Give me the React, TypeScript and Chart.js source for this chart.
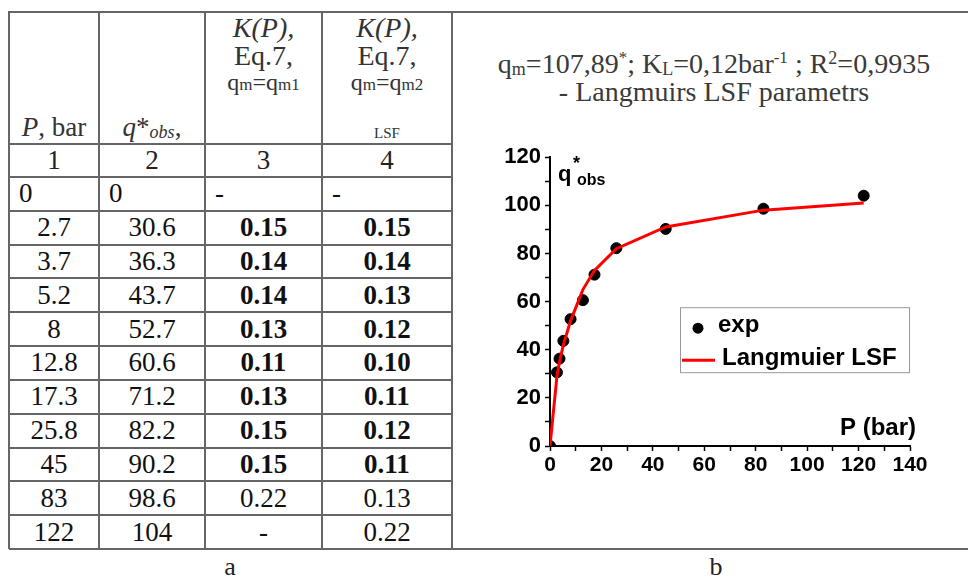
import React, { useEffect, useRef } from 'react';
import { Chart, registerables } from 'chart.js';

Chart.register(...registerables);

// ---------- data ----------
const pressureLabels = ['0', '2.7', '3.7', '5.2', '8', '12.8', '17.3', '25.8', '45', '83', '122'];
const pressureValues = [0, 2.7, 3.7, 5.2, 8, 12.8, 17.3, 25.8, 45, 83, 122];
const qObsLabels = ['0', '30.6', '36.3', '43.7', '52.7', '60.6', '71.2', '82.2', '90.2', '98.6', '104'];
const qObsValues = [0, 30.6, 36.3, 43.7, 52.7, 60.6, 71.2, 82.2, 90.2, 98.6, 104];
const kQm1 = ['-', '0.15', '0.14', '0.14', '0.13', '0.11', '0.13', '0.15', '0.15', '0.22', '-'];
const kQm2 = ['-', '0.15', '0.14', '0.13', '0.12', '0.10', '0.11', '0.12', '0.11', '0.13', '0.22'];
const boldRows = [false, true, true, true, true, true, true, true, true, false, false];
const fitValues = [0, 29, 35, 42, 52, 65, 73, 82, 91, 98, 101];
const columnNumbers = ['1', '2', '3', '4'];
const xTicks = { min: 0, max: 140, step: 10, labelEvery: 20 };
const yTicks = { min: 0, max: 120, step: 10, labelEvery: 20 };
const legendLabels = ['exp', 'Langmuier LSF'];

const SERIF = '"Liberation Serif", "Times New Roman", serif';
const SANS = '"Liberation Sans", Arial, sans-serif';

// ---------- layout ----------
const colX = [9, 99, 205, 322, 452];
const headerTop = 12;
const headerBottom = 144;
const numRowBottom = 177;
const tableBottom = 549;
const rowH = (tableBottom - numRowBottom) / pressureLabels.length;
const LINE = '#666';

function T(props: {
  x: number; w?: number; base: number; size: number; align?: 'left' | 'center' | 'right';
  children: React.ReactNode; style?: React.CSSProperties; font?: string;
}) {
  const { x, w, base, size, align = 'left', children, style, font } = props;
  return (
    <div
      style={{
        position: 'absolute',
        left: x,
        width: w,
        top: base - 0.8375 * size,
        fontSize: size,
        lineHeight: `${size}px`,
        height: size,
        textAlign: align,
        whiteSpace: 'nowrap',
        fontFamily: font || SERIF,
        ...style,
      }}
    >
      {children}
    </div>
  );
}

const sub = (s: string, size: number, dy = 2, extra: React.CSSProperties = {}) => (
  <span style={{ fontSize: size, position: 'relative', top: dy, ...extra }}>{s}</span>
);
const sup = (s: string, size: number, dy = -10, extra: React.CSSProperties = {}) => (
  <span style={{ fontSize: size, position: 'relative', top: dy, ...extra }}>{s}</span>
);

const overlayPlugin = {
  id: 'overlay',
  afterDraw(chart: any) {
    const { ctx, chartArea: ca } = chart;
    ctx.save();
    ctx.fillStyle = '#000';
    ctx.textBaseline = 'alphabetic';
    ctx.textAlign = 'left';
    // y title
    ctx.font = `bold 22px ${SANS}`;
    ctx.fillText('q', ca.left + 8, ca.top + 24);
    ctx.font = `bold 18px ${SANS}`;
    ctx.fillText('*', ca.left + 23, ca.top + 12);
    ctx.font = `bold 16px ${SANS}`;
    ctx.fillText('obs', ca.left + 27, ca.top + 28);
    // x title
    ctx.font = `bold 24px ${SANS}`;
    ctx.textAlign = 'right';
    ctx.fillText('P (bar)', ca.right + 6, ca.bottom - 11);
    // legend box
    const lx = ca.left + 130;
    const ly = ca.top + 150;
    ctx.fillStyle = '#fff';
    ctx.fillRect(lx, ly, 229, 65);
    ctx.strokeStyle = '#999';
    ctx.lineWidth = 1;
    ctx.strokeRect(lx + 0.5, ly + 0.5, 229, 65);
    ctx.fillStyle = '#000';
    ctx.beginPath();
    ctx.arc(lx + 18, ly + 21, 5.5, 0, Math.PI * 2);
    ctx.fill();
    ctx.textAlign = 'left';
    ctx.font = `bold 24px ${SANS}`;
    ctx.fillText(legendLabels[0], lx + 38, ly + 25);
    ctx.strokeStyle = '#f00';
    ctx.lineWidth = 3;
    ctx.beginPath();
    ctx.moveTo(lx + 2, ly + 53);
    ctx.lineTo(lx + 35, ly + 53);
    ctx.stroke();
    ctx.fillText(legendLabels[1], lx + 42, ly + 58);
    ctx.restore();
  },
};

function IsothermChart() {
  const ref = useRef<HTMLCanvasElement>(null);
  useEffect(() => {
    if (!ref.current) return;
    const chart = new Chart(ref.current, {
      type: 'scatter',
      data: {
        datasets: [
          {
            label: legendLabels[1],
            data: pressureValues.map((p, i) => ({ x: p, y: fitValues[i] })),
            showLine: true,
            borderColor: '#ff0000',
            borderWidth: 3,
            pointRadius: 0,
            tension: 0,
          },
          {
            label: legendLabels[0],
            data: pressureValues.map((p, i) => ({ x: p, y: qObsValues[i] })),
            showLine: false,
            backgroundColor: '#000',
            borderColor: '#000',
            pointRadius: 5.5,
          },
        ],
      },
      options: {
        animation: false,
        responsive: false,
        layout: { padding: { left: 10, right: 50, top: 16, bottom: 0 } },
        plugins: { legend: { display: false }, tooltip: { enabled: false }, title: { display: false } },
        scales: {
          x: {
            type: 'linear',
            min: xTicks.min,
            max: xTicks.max,
            border: { display: true, color: '#000', width: 2 },
            grid: { drawOnChartArea: false, color: '#000', tickLength: 5, tickWidth: 1.5, tickColor: '#000' },
            ticks: {
              stepSize: xTicks.step,
              autoSkip: false,
              maxRotation: 0,
              padding: 2,
              color: '#000',
              font: { family: SANS, size: 21, weight: 'bold' },
              callback: (v: any) => (Number(v) % xTicks.labelEvery === 0 ? String(v) : ''),
            },
            afterFit: (s: any) => { s.height = 39; },
          },
          y: {
            type: 'linear',
            min: yTicks.min,
            max: yTicks.max,
            border: { display: true, color: '#000', width: 2 },
            grid: { drawOnChartArea: false, color: '#000', tickLength: 5, tickWidth: 1.5, tickColor: '#000' },
            ticks: {
              stepSize: yTicks.step,
              autoSkip: false,
              padding: 4,
              color: '#000',
              font: { family: SANS, size: 22, weight: 'bold' },
              callback: (v: any) => (Number(v) % yTicks.labelEvery === 0 ? String(v) : ''),
            },
            afterFit: (s: any) => { s.width = 60; },
          },
        },
      },
      plugins: [overlayPlugin],
    });
    return () => chart.destroy();
  }, []);
  return <canvas ref={ref} width={480} height={345} style={{ position: 'absolute', left: 480, top: 140 }} />;
}

export default function App() {
  const hLines: React.ReactNode[] = [];
  const rowTops = [headerTop, headerBottom, numRowBottom];
  for (let i = 1; i <= pressureLabels.length; i++) rowTops.push(numRowBottom + i * rowH);
  rowTops.forEach((y, i) => {
    const full = i === 0 || i === rowTops.length - 1;
    hLines.push(
      <div key={'h' + i} style={{ position: 'absolute', left: colX[0], top: Math.round(y) - 1, width: (full ? 968 : colX[4]) - colX[0], height: 2, background: LINE }} />
    );
  });
  const vLines = colX.map((x, i) => (
    <div key={'v' + i} style={{ position: 'absolute', left: x - 1, top: headerTop - 1, width: 2, height: tableBottom - headerTop + 1, background: LINE }} />
  ));

  const cells: React.ReactNode[] = [];
  pressureLabels.forEach((p, r) => {
    const top = numRowBottom + r * rowH;
    const vals = [p, qObsLabels[r], kQm1[r], kQm2[r]];
    vals.forEach((v, c) => {
      const bold = c >= 2 && boldRows[r];
      cells.push(
        <div
          key={`c${r}-${c}`}
          style={{
            position: 'absolute',
            left: colX[c],
            width: colX[c + 1] - colX[c],
            top,
            height: rowH,
            display: 'flex',
            alignItems: 'center',
            justifyContent: r === 0 ? 'flex-start' : 'center',
            paddingLeft: r === 0 ? 10 : 0,
            boxSizing: 'border-box',
            fontFamily: SERIF,
            fontSize: 27,
            fontWeight: bold ? 'bold' : 'normal',
            color: '#111',
          }}
        >
          {v}
        </div>
      );
    });
  });

  const numCells = columnNumbers.map((n, c) => (
    <div
      key={'n' + c}
      style={{
        position: 'absolute', left: colX[c], width: colX[c + 1] - colX[c], top: headerBottom, height: numRowBottom - headerBottom,
        display: 'flex', alignItems: 'center', justifyContent: 'center', fontFamily: SERIF, fontSize: 27, color: '#222',
      }}
    >
      {n}
    </div>
  ));

  const c3 = { x: colX[2], w: colX[3] - colX[2] };
  const c4 = { x: colX[3], w: colX[4] - colX[3] };
  const hdrColor = { color: '#333' };

  return (
    <div style={{ position: 'fixed', left: 0, top: 0, width: 968, height: 578, background: '#fff', overflow: 'hidden' }}>
      {hLines}
      {vLines}
      {/* header */}
      <T x={colX[0]} w={colX[1] - colX[0]} base={137} size={27} align="center" style={hdrColor}><i>P</i>, bar</T>
      <T x={colX[1]} w={colX[2] - colX[1]} base={137} size={27} align="center" style={hdrColor}>
        <i>q</i>*<i>{sub('obs', 18, 2)}</i>,
      </T>
      {[c3, c4].map((c, i) => (
        <React.Fragment key={'hd' + i}>
          <T x={c.x} w={c.w} base={37} size={28} align="center" style={hdrColor}><i>K(P),</i></T>
          <T x={c.x} w={c.w} base={65} size={28} align="center" style={hdrColor}>Eq.7,</T>
          <T x={c.x} w={c.w} base={90} size={24} align="center" style={hdrColor}>
            q{sub('m', 17, 0)}=q{sub(i === 0 ? 'm1' : 'm2', 17, 0)}
          </T>
        </React.Fragment>
      ))}
      <T x={c4.x} w={c4.w} base={139} size={15} align="center" style={hdrColor}>LSF</T>
      {numCells}
      {cells}
      {/* chart title */}
      <T x={460} w={508} base={73} size={28} align="center" style={{ color: '#3a3a3a' }}>
        q{sub('m', 18, 2)}=107,89{sup('*', 17, -10)}; K{sub('L', 18, 2)}=0,12bar{sup('-1', 17, -10)} ; R{sup('2', 18, -9)}=0,9935
      </T>
      <T x={460} w={508} base={101} size={28} align="center" style={{ color: '#3a3a3a' }}>
        - Langmuirs LSF parametrs
      </T>
      <IsothermChart />
      <T x={180} w={100} base={576} size={26} align="center" style={{ color: '#222' }}>a</T>
      <T x={666} w={100} base={576} size={26} align="center" style={{ color: '#222' }}>b</T>
    </div>
  );
}
